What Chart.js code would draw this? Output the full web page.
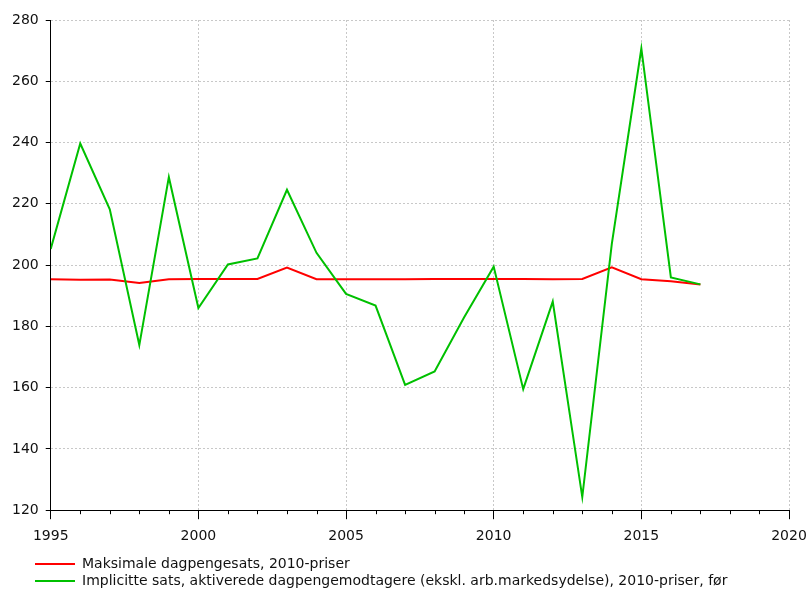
<!DOCTYPE html>
<html>
<head>
<meta charset="utf-8">
<script src="https://cdn.jsdelivr.net/npm/chart.js@4/dist/chart.umd.min.js"></script>
<style>
  html, body { margin: 0; padding: 0; background: #fff; }
  #wrap { width: 811px; height: 590px; }
</style>
</head>
<body>
<div id="wrap"><canvas id="chart"></canvas></div>
<script>
const years = [1995, 1996, 1997, 1998, 1999, 2000, 2001, 2002, 2003, 2004, 2005, 2006,
               2007, 2008, 2009, 2010, 2011, 2012, 2013, 2014, 2015, 2016, 2017];

const maksimale = [195.4, 195.2, 195.3, 194.2, 195.4, 195.5, 195.5, 195.5, 199.2, 195.4, 195.4, 195.4,
                   195.4, 195.5, 195.5, 195.5, 195.5, 195.4, 195.5, 199.3, 195.4, 194.7, 193.7];

const implicitte = [205.3, 239.7, 218.2, 173.9, 228.7, 186.0, 200.2, 202.2, 224.6, 204.0, 190.6, 186.8,
                    160.9, 165.3, 183.0, 199.5, 159.5, 188.1, 124.3, 206.9, 270.7, 196.0, 193.7];

const seriesNames = [
  'Maksimale dagpengesats, 2010-priser',
  'Implicitte sats, aktiverede dagpengemodtagere (ekskl. arb.markedsydelse), 2010-priser, før'
];

const toPoints = vals => vals.map((v, i) => ({x: years[i], y: v}));

Chart.defaults.font.family = "'DejaVu Sans', Verdana, sans-serif";
Chart.defaults.font.size = 14;
Chart.defaults.color = '#111';

// short tick marks for each year between the labelled ones
const minorTicks = {
  id: 'minorTicks',
  afterDraw(chart) {
    const xs = chart.scales.x;
    const ctx = chart.ctx;
    const bottom = chart.chartArea.bottom;
    ctx.save();
    ctx.strokeStyle = '#000';
    ctx.lineWidth = 1;
    ctx.beginPath();
    for (let yr = 1995; yr <= 2020; yr++) {
      if (yr % 5 === 0) continue;
      const px = Math.round(xs.getPixelForValue(yr)) + 0.5;
      ctx.moveTo(px, bottom);
      ctx.lineTo(px, bottom + 4);
    }
    ctx.stroke();
    ctx.restore();
  }
};

// legend sits indented under the plot, not under the y labels
const legendShift = {
  id: 'legendShift',
  afterLayout(chart) {
    chart.legend.left += 27;
    chart.legend.right += 27;
  }
};

new Chart(document.getElementById('chart'), {
  type: 'line',
  data: {
    datasets: [{
      label: seriesNames[0],
      data: toPoints(maksimale),
      borderColor: '#ff0000',
      backgroundColor: '#ff0000',
      borderWidth: 2,
      pointRadius: 0,
      pointStyle: 'line',
      tension: 0,
      order: 1
    }, {
      label: seriesNames[1],
      data: toPoints(implicitte),
      borderColor: '#00c000',
      backgroundColor: '#00c000',
      borderWidth: 2,
      pointRadius: 0,
      pointStyle: 'line',
      tension: 0,
      order: 0
    }]
  },
  options: {
    responsive: true,
    maintainAspectRatio: false,
    animation: false,
    layout: {
      padding: {top: 20, left: 5, right: 0, bottom: -8}
    },
    plugins: {
      tooltip: {enabled: false},
      legend: {
        position: 'bottom',
        align: 'start',
        labels: {
          usePointStyle: true,
          pointStyleWidth: 40,
          padding: 3,
          sort: (a, b) => a.datasetIndex - b.datasetIndex
        }
      }
    },
    scales: {
      x: {
        type: 'linear',
        min: 1995,
        max: 2020,
        afterFit: s => { s.paddingRight = 22; s.paddingLeft = 0; },
        ticks: {stepSize: 5, padding: 9, maxRotation: 0, callback: v => String(v)},
        grid: {
          color: '#c8c8c8',
          tickColor: '#000',
          tickBorderDash: [],
          tickLength: 9
        },
        border: {color: '#000', width: 1, dash: [2, 2]}
      },
      y: {
        min: 120,
        max: 280,
        ticks: {stepSize: 20, padding: 7},
        grid: {
          color: '#c8c8c8',
          tickColor: '#000',
          tickBorderDash: [],
          tickLength: 5
        },
        border: {color: '#000', width: 1, dash: [2, 2]}
      }
    }
  },
  plugins: [minorTicks, legendShift]
});
</script>
</body>
</html>
